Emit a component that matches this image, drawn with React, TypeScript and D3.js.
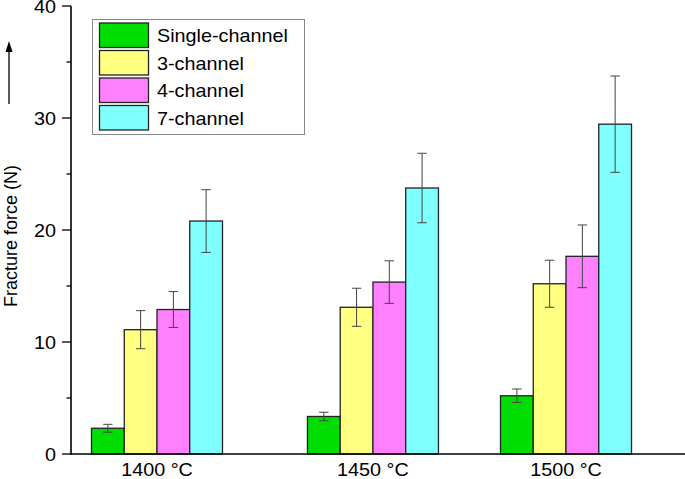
import React from "react";
import * as d3 from "d3";

const categories = ["1400 °C", "1450 °C", "1500 °C"];
// category positions along the x axis (as placed in the original figure)
const categoryPos = [0, 1.056, 2];
const seriesNames = ["Single-channel", "3-channel", "4-channel", "7-channel"];
const seriesColors = ["#00DD00", "#FFFF80", "#FF80FF", "#80FFFF"];
const singleVals = [2.3, 3.35, 5.2];
const singleErr = [0.35, 0.38, 0.6];
const threeVals = [11.1, 13.1, 15.2];
const threeErr = [1.7, 1.7, 2.1];
const fourVals = [12.9, 15.35, 17.65];
const fourErr = [1.6, 1.9, 2.8];
const sevenVals = [20.8, 23.75, 29.45];
const sevenErr = [2.8, 3.1, 4.3];
const yMajorTicks = [0, 10, 20, 30, 40];
const yMinorTicks = [5, 15, 25, 35];

const W = 685;
const H = 479;
const FONT = "'Liberation Sans', Arial, Helvetica, sans-serif";
const SX = 1.1;

export default function App() {
  const series = [
    { vals: singleVals, err: singleErr },
    { vals: threeVals, err: threeErr },
    { vals: fourVals, err: fourErr },
    { vals: sevenVals, err: sevenErr },
  ];
  const y = d3.scaleLinear().domain([0, 40]).range([454, 6]);
  const x = d3.scaleLinear().domain([0, 2]).range([157, 566]);
  const inner = d3
    .scaleBand<number>()
    .domain(d3.range(seriesNames.length))
    .range([-65.5, 65.5])
    .paddingInner(0);
  const bw = inner.bandwidth();
  const axisX = 71;

  return (
    <svg
      width={W}
      height={H}
      style={{ position: "absolute", left: 0, top: 0, background: "#fff" }}
      fontFamily={FONT}
    >
      {/* bars */}
      {series.map((s, si) =>
        s.vals.map((v, ci) => {
          const x0 = x(categoryPos[ci]) + (inner(si) as number);
          return (
            <rect
              key={`b${si}-${ci}`}
              x={x0}
              y={y(v)}
              width={bw}
              height={y(0) - y(v)}
              fill={seriesColors[si]}
              stroke="#222"
              strokeWidth={1.3}
            />
          );
        })
      )}
      {/* error bars */}
      {series.map((s, si) =>
        s.vals.map((v, ci) => {
          const cx = x(categoryPos[ci]) + (inner(si) as number) + bw / 2;
          const hi = y(v + s.err[ci]);
          const lo = y(v - s.err[ci]);
          return (
            <g key={`e${si}-${ci}`} stroke="#444" strokeWidth={1}>
              <line x1={cx} x2={cx} y1={hi} y2={lo} />
              <line x1={cx - 4.7} x2={cx + 4.7} y1={hi} y2={hi} />
              <line x1={cx - 4.7} x2={cx + 4.7} y1={lo} y2={lo} />
            </g>
          );
        })
      )}
      {/* axes */}
      <line x1={axisX} x2={axisX} y1={y(40)} y2={y(0) + 0.8} stroke="#000" strokeWidth={1.6} />
      <line x1={axisX} x2={W} y1={y(0)} y2={y(0)} stroke="#000" strokeWidth={1.6} />
      {yMajorTicks.map((t) => (
        <g key={`t${t}`}>
          <line x1={axisX - 9} x2={axisX} y1={y(t)} y2={y(t)} stroke="#000" strokeWidth={1.3} />
          <g transform={`translate(${axisX - 15},${y(t) + 6.5}) scale(${SX},1)`}>
            <text textAnchor="end" fontSize={18} fill="#000">
              {t}
            </text>
          </g>
        </g>
      ))}
      {yMinorTicks.map((t) => (
        <line key={`m${t}`} x1={axisX - 4.5} x2={axisX} y1={y(t)} y2={y(t)} stroke="#000" strokeWidth={1.3} />
      ))}
      {categories.map((c, ci) => (
        <g key={`c${ci}`} transform={`translate(${x(categoryPos[ci])},475.5) scale(${SX},1)`}>
          <text textAnchor="middle" fontSize={18} fill="#000">
            {c}
          </text>
        </g>
      ))}
      {/* y label */}
      <text
        transform={`translate(17,236) rotate(-90)`}
        textAnchor="middle"
        fontSize={18}
        fill="#000"
      >
        Fracture force (N)
      </text>
      {/* arrow */}
      <line x1={9} x2={9} y1={104} y2={50} stroke="#000" strokeWidth={1.3} />
      <path d="M9,41 L5.5,52 L12.5,52 Z" fill="#000" />
      {/* legend */}
      <rect x={92.5} y={19.5} width={212} height={115} fill="#fff" stroke="#888" strokeWidth={1} />
      {seriesNames.map((n, i) => (
        <g key={`l${i}`}>
          <rect
            x={99.5}
            y={23 + i * 27.5}
            width={49}
            height={24.5}
            fill={seriesColors[i]}
            stroke="#222"
            strokeWidth={1.3}
          />
          <g transform={`translate(157,${42 + i * 27.5}) scale(${SX},1)`}>
            <text fontSize={18} fill="#000">
              {n}
            </text>
          </g>
        </g>
      ))}
    </svg>
  );
}
